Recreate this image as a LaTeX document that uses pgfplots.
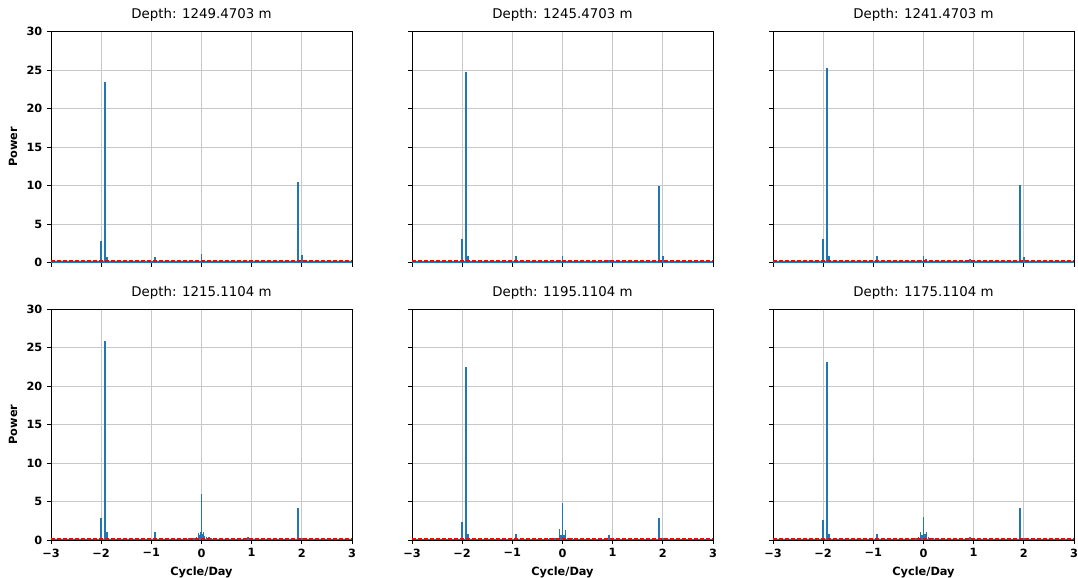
\documentclass[border=0pt]{standalone}
\usepackage{pgfplots}
\pgfplotsset{compat=1.18}
\usepackage{fontspec}
\setmainfont{DejaVu Sans}
\definecolor{mplblue}{HTML}{1F77B4}
\definecolor{gridgray}{HTML}{C8C8C8}
\pgfplotsset{
  panel/.style={
    width=225.75pt, height=173.25pt, scale only axis,
    anchor=south west,
    xmin=-3, xmax=3, ymin=0, ymax=30,
    xtick={-3,-2,-1,0,1,2,3}, ytick={0,5,10,15,20,25,30},
    xticklabels={−3,−2,−1,0,1,2,3},
    grid=major, grid style={gridgray, line width=0.6pt},
    tick align=outside, tick pos=left, major tick length=3pt,
    tick style={black, line width=0.6pt},
    axis line style={black, line width=0.6pt},
    tick label style={font=\bfseries\fontsize{8.5}{10}\selectfont},
    label style={font=\bfseries\fontsize{8.5}{10}\selectfont},
    /pgf/number format/assume math mode=true,
    title style={font=\fontsize{10}{12}\selectfont, yshift=-2pt},
    clip=true,
  },
  spike/.style={mplblue, line width=1.4pt, ycomb, no markers},
  base/.style={mplblue, line width=0.9pt, no markers},
  thr/.style={red, dash pattern=on 3pt off 1.5pt, line width=1.1pt, no markers},
}
\begin{document}
\begin{tikzpicture}
\useasboundingbox (0,0) rectangle (808.5pt,-433.5pt);
% ---- top row ----
\begin{axis}[panel, at={(38.25pt,-196.9pt)}, title={Depth: 1249.4703 m}, xticklabels={}, ylabel={Power}]
\addplot[base] coordinates {(-3,0.08) (3,0.08)};
\addplot[spike] coordinates {(-2.0,2.85) (-1.93,23.4) (-1.885,0.7) (-0.93,0.7) (-0.05,0.25) (0,1.1) (0.05,0.2) (0.93,0.15) (1.93,10.4) (2.0,1.0)};
\addplot[thr] coordinates {(-3,0.2) (3,0.2)};
\end{axis}
\begin{axis}[panel, at={(309pt,-196.9pt)}, title={Depth: 1245.4703 m}, xticklabels={}, yticklabels={}]
\addplot[base] coordinates {(-3,0.08) (3,0.08)};
\addplot[spike] coordinates {(-2.0,3.0) (-1.93,24.7) (-1.885,0.8) (-0.93,0.8) (-0.05,0.3) (0,0.9) (0.05,0.2) (0.93,0.3) (1.93,9.9) (2.0,0.8)};
\addplot[thr] coordinates {(-3,0.2) (3,0.2)};
\end{axis}
\begin{axis}[panel, at={(579.75pt,-196.9pt)}, title={Depth: 1241.4703 m}, xticklabels={}, yticklabels={}]
\addplot[base] coordinates {(-3,0.08) (3,0.08)};
\addplot[spike] coordinates {(-2.0,3.1) (-1.93,25.2) (-1.885,0.8) (-0.93,0.8) (-0.05,0.3) (0,0.9) (0.05,0.4) (0.93,0.4) (1.93,10.1) (2.0,0.7)};
\addplot[thr] coordinates {(-3,0.2) (3,0.2)};
\end{axis}
% ---- bottom row ----
\begin{axis}[panel, at={(38.25pt,-405pt)}, title={Depth: 1215.1104 m}, ylabel={Power}, xlabel={Cycle/Day}]
\addplot[base] coordinates {(-3,0.08) (3,0.08)};
\addplot[spike] coordinates {(-2.0,2.9) (-1.93,25.8) (-1.885,1.0) (-0.93,1.0)
 (-0.25,0.2) (-0.2,0.3) (-0.15,0.25) (-0.1,0.4) (-0.06,0.9) (-0.04,0.6) (-0.02,1.1) (0,6.0) (0.02,0.8) (0.04,1.1) (0.06,0.5) (0.1,0.4) (0.15,0.35) (0.2,0.3) (0.25,0.2)
 (0.93,0.4) (1.1,0.15) (1.93,4.1) (2.0,0.3)};
\addplot[thr] coordinates {(-3,0.15) (3,0.15)};
\end{axis}
\begin{axis}[panel, at={(309pt,-405pt)}, title={Depth: 1195.1104 m}, yticklabels={}, xlabel={Cycle/Day}]
\addplot[base] coordinates {(-3,0.08) (3,0.08)};
\addplot[spike] coordinates {(-2.0,2.4) (-1.93,22.5) (-1.885,0.8) (-0.93,0.8)
 (-0.25,0.3) (-0.2,0.3) (-0.15,0.3) (-0.1,0.3) (-0.06,1.4) (-0.03,0.7) (0,4.8) (0.03,0.6) (0.06,1.3) (0.1,0.3) (0.15,0.3) (0.2,0.2) (0.25,0.2)
 (0.93,0.6) (1.1,0.2) (1.93,2.9) (2.0,0.2)};
\addplot[thr] coordinates {(-3,0.15) (3,0.15)};
\end{axis}
\begin{axis}[panel, at={(579.75pt,-405pt)}, title={Depth: 1175.1104 m}, yticklabels={}, xlabel={Cycle/Day}]
\addplot[base] coordinates {(-3,0.08) (3,0.08)};
\addplot[spike] coordinates {(-2.0,2.6) (-1.93,23.1) (-1.885,0.8) (-0.93,0.8)
 (-0.2,0.3) (-0.15,0.2) (-0.1,0.4) (-0.06,1.1) (-0.03,0.7) (0,3.0) (0.03,0.8) (0.06,1.0) (0.1,0.4) (0.15,0.3) (0.2,0.2) (0.25,0.2)
 (0.93,0.4) (1.1,0.1) (1.93,4.1) (2.0,0.3)};
\addplot[thr] coordinates {(-3,0.15) (3,0.15)};
\end{axis}
\end{tikzpicture}
\end{document}
